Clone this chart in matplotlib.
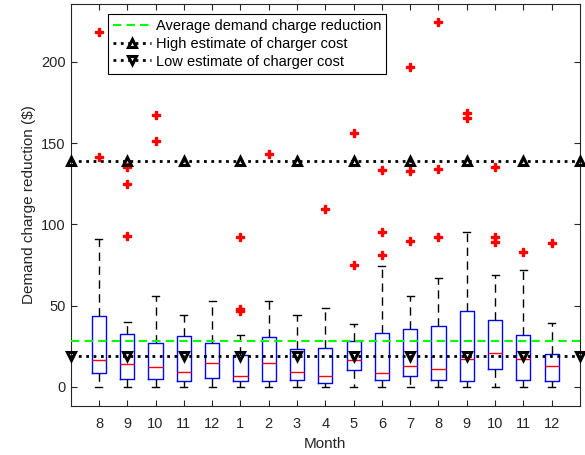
import matplotlib
matplotlib.use('Agg')
import matplotlib.pyplot as plt

plt.rcParams['font.family'] = ['Liberation Sans', 'DejaVu Sans']
plt.rcParams['font.size'] = 10.5

# --- 月ごとの箱ひげ図の要約値
months = ['8', '9', '10', '11', '12', '1', '2', '3', '4', '5', '6', '7',
          '8', '9', '10', '11', '12']
whislo = [0, 0, 0, 0, 0, 0, 0, 0, 0, 0, 0, 0, 0, 0, 0, 0, 0]
q1 = [8.4, 5.1, 5.1, 3.5, 5.7, 3.3, 3.5, 4.5, 2.4, 10.3, 4.5, 6.7,
      4.1, 3.3, 11.1, 4.5, 3.5]
med = [16.4, 14.0, 12.3, 9.3, 14.8, 6.5, 14.4, 9.3, 6.7, 16.4, 8.8, 13.0,
       11.1, 16.9, 20.9, 16.9, 13.0]
q3 = [43.7, 32.6, 26.7, 31.4, 26.7, 19.9, 30.6, 23.0, 23.6, 28.4, 33.2, 35.7,
      37.3, 46.6, 41.0, 31.8, 20.5]
whishi = [90.7, 40.2, 55.6, 44.1, 52.7, 31.8, 52.6, 44.1, 48.6, 38.8, 74.3,
          55.8, 66.9, 95.4, 68.7, 71.8, 39.4]
fliers = [[218.5, 141.2], [135.4, 125.0, 92.9], [167.2, 151.2], [], [],
          [91.9, 48.0, 46.8], [143.0], [], [109.3], [155.9, 75.1],
          [133.3, 95.0, 81.2], [196.6, 132.5, 89.7], [224.3, 134.3, 91.9],
          [168.2, 165.5], [135.3, 91.9, 89.2], [82.7], [88.3]]

avg_reduction = 28.3
high_cost = 138.9
low_cost = 19.1

stats = []
for i in range(len(months)):
    stats.append(dict(whislo=whislo[i], q1=q1[i], med=med[i], q3=q3[i],
                      whishi=whishi[i], fliers=fliers[i], label=months[i]))

fig = plt.figure(figsize=(5.85, 4.55), dpi=100)
ax = fig.add_axes([0.1208, 0.108, 0.8706, 0.883])

pos = list(range(1, len(months) + 1))
ax.bxp(stats, positions=pos, widths=0.5, capwidths=0.25,
       boxprops=dict(color='blue', linewidth=1.0),
       medianprops=dict(color='red', linewidth=1.0),
       whiskerprops=dict(color='black', linewidth=1.0, linestyle=(0, (6, 4))),
       capprops=dict(color='black', linewidth=1.0),
       flierprops=dict(marker='P', markerfacecolor='red', markeredgecolor='red',
                       markersize=6, linestyle='none'))

# --- 平均値と充電器コストの水平線
xl = [0, 18]
xm = list(range(0, 19, 2))
ax.plot(xl, [avg_reduction] * 2, color=(0, 1, 0), linestyle=(0, (4, 2.5)),
        linewidth=1.5, label='Average demand charge reduction', zorder=4)
ax.plot(xm, [high_cost] * len(xm), color='black', linestyle=':', linewidth=2,
        marker='^', markersize=5.5, markerfacecolor='none', markeredgewidth=2.2,
        label='High estimate of charger cost', zorder=4, clip_on=False)
ax.plot(xm, [low_cost] * len(xm), color='black', linestyle=':', linewidth=2,
        marker='v', markersize=5.5, markerfacecolor='none', markeredgewidth=2.2,
        label='Low estimate of charger cost', zorder=4, clip_on=False)

ax.set_xlim(0, 18)
ax.set_ylim(-11.7, 235.5)
ax.set_xticks(pos)
ax.set_xticklabels(months)
ax.set_yticks([0, 50, 100, 150, 200])
ax.tick_params(direction='in', length=4, top=True, right=True,
               colors='#262626', labelcolor='#262626', labelsize=10.5)
ax.tick_params(axis='x', pad=8)
for s in ax.spines.values():
    s.set_color('#262626')
    s.set_linewidth(0.8)

ax.set_xlabel('Month', fontsize=11, color='#262626')
ax.set_ylabel('Demand charge reduction ($)', fontsize=11, color='#262626')

leg = ax.legend(loc='upper left', bbox_to_anchor=(0.074, 0.975),
                handlelength=2.6, handletextpad=0.3, borderpad=0.35,
                labelspacing=0.25, borderaxespad=0, fancybox=False,
                framealpha=1, edgecolor='black', fontsize=10.5)
leg.get_frame().set_linewidth(0.8)

plt.savefig('out.png', dpi=100)
